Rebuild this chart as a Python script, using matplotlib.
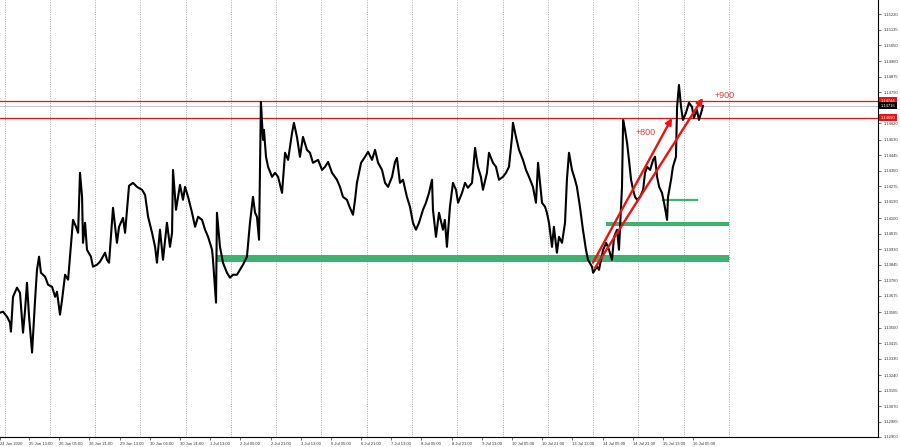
import matplotlib
matplotlib.use("Agg")
import matplotlib.pyplot as plt

plt.rcParams['font.family'] = ['Liberation Sans', 'DejaVu Sans']

# ====== Data ======
# time in trading hours counted from 25 Jun 2020 00:00 (weekends skipped)
hours = [
    -2.4, -0.8, 1.3, 2.9, 3.4, 4.5, 6.6, 8.2, 9.8, 10.9, 11.9, 13.0, 14.6, 16.2, 17.2, 18.3,
    19.3, 21.5, 23.1, 25.2, 26.8, 27.8, 29.4, 30.5, 32.1, 33.7, 34.7, 35.8, 36.3, 37.9, 39.0,
    40.0, 41.1, 41.6, 42.7, 43.7, 45.8, 46.9, 49.0, 50.6, 53.3, 54.3, 55.4, 57.5, 59.6, 60.7,
    62.8, 63.9, 66.0, 68.1, 70.2, 72.9, 74.5, 76.1, 78.2, 79.8, 80.8, 82.4, 84.0, 86.1, 87.7,
    88.8, 89.3, 90.9, 93.0, 94.6, 95.7, 97.3, 99.4, 101.0, 102.6, 104.7, 106.3, 107.9, 110.0,
    110.5, 112.1, 112.6, 114.2, 115.8, 117.9, 119.5, 121.1, 123.2, 124.8, 126.4, 128.5, 130.1,
    131.7, 132.8, 133.8, 134.9, 135.9, 137.0, 137.5, 138.6, 139.7, 141.8, 143.4, 145.0, 147.1,
    148.7, 150.3, 152.4, 153.4, 155.0, 156.6, 158.2, 160.3, 161.9, 163.5, 166.2, 168.3, 169.9,
    171.5, 173.6, 176.2, 177.8, 179.4, 181.5, 183.1, 184.7, 185.8, 186.8, 189.0, 191.1, 192.7,
    194.8, 196.4, 198.0, 200.1, 201.7, 203.3, 205.4, 207.0, 208.0, 209.6, 211.2, 213.3, 214.9,
    216.5, 218.1, 219.7, 221.8, 223.4, 225.0, 226.6, 227.1, 228.7, 230.3, 232.4, 233.4, 234.5,
    236.1, 237.7, 239.3, 240.4, 242.5, 244.1, 245.6, 247.8, 249.4, 250.9, 252.5, 253.6, 255.7,
    256.8, 258.9, 260.5, 262.1, 264.2, 265.8, 267.4, 269.0, 269.5, 271.1, 272.7, 274.8, 276.4,
    278.0, 280.1, 281.7, 282.8, 284.9, 286.5, 287.5, 288.6, 290.2, 291.2, 292.8, 293.9, 295.5,
    297.1, 298.1, 299.2, 300.8, 302.4, 303.4, 305.0, 306.6, 308.2, 309.3, 311.4, 312.0, 314.1,
    315.1, 317.3, 318.9, 320.4, 322.0, 323.1, 324.7, 325.7, 327.3, 327.9, 328.9, 330.0, 331.0,
    332.1, 333.2, 334.2, 335.3, 336.9, 338.5, 339.5, 340.6, 342.2, 343.8, 344.8, 345.9, 347.0,
    348.5, 349.6, 351.2, 351.7, 353.3, 354.3, 355.9, 356.5, 357.5, 358.6, 359.6, 361.2, 362.8,
    364.4, 365.4, 367.0, 368.1, 369.7, 370.2,
]
prices = [
    1.13582, 1.13587, 1.13560, 1.13527, 1.13478, 1.13669, 1.13719, 1.13691, 1.13472, 1.13598,
    1.13746, 1.13560, 1.13363, 1.13653, 1.13817, 1.13889, 1.13801, 1.13779, 1.13735, 1.13724,
    1.13669, 1.13697, 1.13571, 1.13653, 1.13790, 1.13763, 1.13889, 1.14026, 1.14091, 1.14053,
    1.14020, 1.14349, 1.14217, 1.13965, 1.14075, 1.13927, 1.13889, 1.13834, 1.13845, 1.13861,
    1.13911, 1.13872, 1.13856, 1.14157, 1.13965, 1.14053, 1.14102, 1.14020, 1.14278, 1.14294,
    1.14272, 1.14256, 1.14228, 1.14108, 1.14020, 1.13943, 1.13856, 1.14037, 1.13872, 1.14075,
    1.13943, 1.14020, 1.14365, 1.14146, 1.14283, 1.14201, 1.14272, 1.14217, 1.14130, 1.14053,
    1.14108, 1.14091, 1.14037, 1.13998, 1.13927, 1.13872, 1.13637, 1.14130, 1.13943, 1.13856,
    1.13801, 1.13774, 1.13790, 1.13790, 1.13817, 1.13845, 1.13889, 1.14075, 1.14217, 1.14130,
    1.14108, 1.13982, 1.14738, 1.14530, 1.14585, 1.14437, 1.14382, 1.14327, 1.14349, 1.14327,
    1.14239, 1.14459, 1.14420, 1.14568, 1.14623, 1.14546, 1.14437, 1.14546, 1.14475, 1.14459,
    1.14404, 1.14420, 1.14365, 1.14382, 1.14409, 1.14349, 1.14311, 1.14272, 1.14217, 1.14201,
    1.14157, 1.14119, 1.14201, 1.14294, 1.14404, 1.14437, 1.14464, 1.14420, 1.14475, 1.14404,
    1.14365, 1.14294, 1.14272, 1.14327, 1.14409, 1.14431, 1.14294, 1.14311, 1.14217, 1.14163,
    1.14075, 1.14037, 1.14075, 1.14146, 1.14185, 1.14239, 1.14311, 1.14146, 1.13998, 1.14130,
    1.14037, 1.14091, 1.13943, 1.14163, 1.14294, 1.14256, 1.14185, 1.14239, 1.14294, 1.14267,
    1.14294, 1.14486, 1.14382, 1.14327, 1.14256, 1.14349, 1.14459, 1.14404, 1.14382, 1.14311,
    1.14327, 1.14349, 1.14382, 1.14546, 1.14623, 1.14546, 1.14475, 1.14420, 1.14365, 1.14327,
    1.14272, 1.14185, 1.14404, 1.14185, 1.14163, 1.14130, 1.14075, 1.13943, 1.14053, 1.13911,
    1.13998, 1.13965, 1.14075, 1.14311, 1.14459, 1.14365, 1.14311, 1.14272, 1.14163, 1.14037,
    1.13927, 1.13872, 1.13834, 1.13801, 1.13834, 1.13817, 1.13927, 1.13965, 1.13927, 1.13872,
    1.13998, 1.14037, 1.13927, 1.14272, 1.14639, 1.14585, 1.14513, 1.14420, 1.14311, 1.14256,
    1.14217, 1.14201, 1.14217, 1.14256, 1.14349, 1.14382, 1.14365, 1.14420, 1.14437, 1.14327,
    1.14272, 1.14239, 1.14185, 1.14091, 1.14217, 1.14311, 1.14382, 1.14437, 1.14711, 1.14831,
    1.14711, 1.14639, 1.14678, 1.14733, 1.14711, 1.14650, 1.14694, 1.14639, 1.14694, 1.14716,
]

# price axis labels (right side)
y_labels = ["1.15220", "1.15135", "1.15050", "1.14960", "1.14875", "1.14790", "1.14620",
            "1.14530", "1.14445", "1.14360", "1.14275", "1.14190", "1.14100", "1.14015",
            "1.13930", "1.13845", "1.13760", "1.13675", "1.13585", "1.13500", "1.13415",
            "1.13330", "1.13240", "1.13155", "1.13070", "1.12985", "1.12900"]

# time axis labels and their positions (trading hours)
x_labels = ["24 Jun 2020", "25 Jun 13:00", "26 Jun 05:00", "26 Jun 21:00", "29 Jun 13:00",
            "30 Jun 05:00", "30 Jun 21:00", "1 Jul 13:00", "2 Jul 05:00", "2 Jul 21:00",
            "3 Jul 13:00", "6 Jul 05:00", "6 Jul 21:00", "7 Jul 13:00", "8 Jul 05:00",
            "8 Jul 21:00", "9 Jul 13:00", "10 Jul 05:00", "10 Jul 21:00", "13 Jul 13:00",
            "14 Jul 05:00", "14 Jul 21:00", "15 Jul 13:00", "16 Jul 05:00"]
x_label_hours = [-2.4, 13, 29, 45, 61, 77, 93, 109, 125, 141, 157, 173, 189, 205, 221,
                 237, 253, 269, 285, 301, 317, 333, 349, 365]

# day separators (midnight, 25 Jun .. 17 Jul)
day_hours = [24 * d for d in range(17)]

# resistance levels (red lines)
red_levels = [1.14744, 1.14650]

# support zones: (start hour, end hour, low, high)
zones = [
    (112.1, 384.0, 1.13859, 1.13896),
    (318.8, 384.0, 1.14055, 1.14082),
]
thin_level = (349.0, 367.0, 1.14201)

# arrows: (tail hour, tail price, tip hour, tip price)
arrows = [
    (311.9, 1.13856, 353.8, 1.14650),
    (313.0, 1.13828, 370.2, 1.14760),
]
notes = [("+800", 340.0, 1.14568), ("+900", 381.9, 1.14771)]

# ====== Plot ======
fig = plt.figure(figsize=(9, 4.47), dpi=100)
ax = fig.add_axes([0, 10 / 447, 878 / 900, 437 / 447])
ax.set_xlim(-2.4, 463.0)
ax.set_ylim(1.12900, 1.15297)

for d in day_hours:
    ax.axvline(d, color="#999999", lw=0.6, ls=(0, (1.2, 1.6)), zorder=1)

green = "#3cb371"
for x0, x1, lo, hi in zones:
    ax.fill_between([x0, x1], lo, hi, color=green, lw=0, zorder=2)
ax.plot([thin_level[0], thin_level[1]], [thin_level[2]] * 2, color=green, lw=1.6, zorder=2)

ax.axhline(prices[-1], color="#c8c8c8", lw=0.8, zorder=2)
for lvl in red_levels:
    ax.axhline(lvl, color="#f01010", lw=0.9, zorder=3)

ax.plot(hours, prices, color="black", lw=1.5, zorder=4)

for x0, y0, x1, y1 in arrows:
    ax.annotate("", xy=(x1, y1), xytext=(x0, y0), zorder=5,
                arrowprops=dict(arrowstyle="-|>", color="#f01010", lw=1.7,
                                mutation_scale=9, shrinkA=0, shrinkB=0))
for txt, x, y in notes:
    ax.text(x, y, txt, color="#e83a3a", fontsize=6.5, ha="center", va="center", zorder=6)

# axes look
for side in ["left", "top"]:
    ax.spines[side].set_visible(False)
for side in ["right", "bottom"]:
    ax.spines[side].set_color("black")
    ax.spines[side].set_linewidth(0.8)

ax.yaxis.tick_right()
ax.set_yticks([float(s) for s in y_labels], y_labels)
ax.tick_params(axis="y", length=2.5, width=0.5, pad=1.5, labelsize=3.0, colors="#333333")
ax.set_xticks(x_label_hours, x_labels, ha="left")
ax.tick_params(axis="x", length=2.5, width=0.5, pad=1.0, labelsize=3.0, colors="#333333")

# price tags on the axis
tags = [(red_levels[0], "#f01010"), (prices[-1], "black"), (red_levels[1], "#f01010")]
for val, col in tags:
    ax.text(1.003, val, f"{val:.5f}", transform=ax.get_yaxis_transform(), fontsize=3.0,
            color="white", va="center", ha="left", zorder=7,
            bbox=dict(boxstyle="square,pad=0.35", fc=col, ec="none"))

fig.savefig("out.png", dpi=100)
